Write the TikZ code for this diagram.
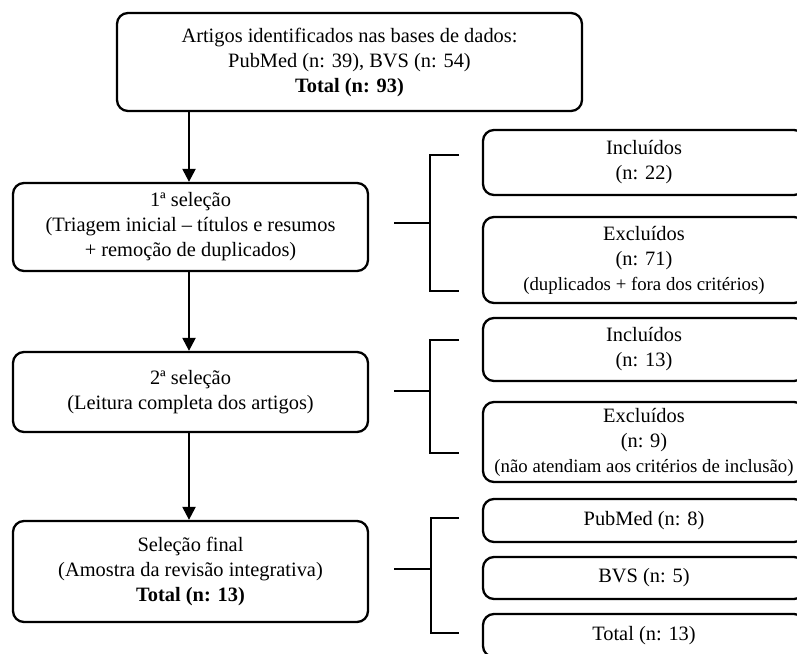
\documentclass[tikz,border=0pt]{standalone}
\usepackage{fontspec}
\setmainfont{Liberation Serif}
\usetikzlibrary{arrows.meta}
\begin{document}
\begin{tikzpicture}[x=1pt,y=-1pt,
  box/.style={draw=black,line width=2.3pt,rounded corners=11pt,fill=white,align=center,
    inner sep=0pt,font=\fontsize{20.4}{25}\selectfont},
  conn/.style={line width=2.3pt,black},
  arr/.style={conn,-{Triangle[width=13pt,length=13pt]}}]
\newcommand{\smalltxt}[1]{{\fontsize{18.8}{23}\selectfont #1}}
\useasboundingbox (0,0) rectangle (797,653);
\clip (0,0) rectangle (797,653);
% left column
\node[box,minimum width=465pt,minimum height=98pt] (top) at (349.5,62)
  {Artigos identificados nas bases de dados:\\PubMed (n: 39), BVS (n: 54)\\\textbf{Total (n: 93)}};
\node[box,minimum width=355pt,minimum height=88pt] (s1) at (190.5,227)
  {1ª seleção\\(Triagem inicial – títulos e resumos\\+ remoção de duplicados)};
\node[box,minimum width=355pt,minimum height=80pt] (s2) at (190.5,392)
  {2ª seleção\\(Leitura completa dos artigos)};
\node[box,minimum width=355pt,minimum height=101pt] (sf) at (190.5,571.5)
  {Seleção final\\(Amostra da revisão integrativa)\\\textbf{Total (n: 13)}};
% right column
\node[box,minimum width=322pt,minimum height=65pt] (i1) at (644,162.5) {Incluídos\\(n: 22)};
\node[box,minimum width=322pt,minimum height=86pt] (e1) at (644,260)
  {Excluídos\\(n: 71)\\\smalltxt{(duplicados + fora dos critérios)}};
\node[box,minimum width=322pt,minimum height=63pt] (i2) at (644,349.5) {Incluídos\\(n: 13)};
\node[box,minimum width=322pt,minimum height=80pt] (e2) at (644,442)
  {Excluídos\\(n: 9)\\\smalltxt{(não atendiam aos critérios de inclusão)}};
\node[box,minimum width=322pt,minimum height=43pt] (p) at (644,520.5) {PubMed (n: 8)};
\node[box,minimum width=322pt,minimum height=42pt] (b) at (644,578) {BVS (n: 5)};
\node[box,minimum width=322pt,minimum height=43pt] (t) at (644,635.5) {Total (n: 13)};
% arrows
\draw[arr] (top.south -| 189,0) -- (s1.north -| 189,0);
\draw[arr] (s1.south -| 189,0) -- (s2.north -| 189,0);
\draw[arr] (s2.south -| 189,0) -- (sf.north -| 189,0);
% brackets
\coordinate (k1) at (430,223);
\coordinate (k2) at (430,391);
\coordinate (k3) at (431,569);
\draw[conn] (s1.east |- k1) ++(25,0) -- (k1);
\draw[conn] (459,155) -- (430,155) -- (430,291) -- (459,291);
\draw[conn] (s2.east |- k2) ++(25,0) -- (k2);
\draw[conn] (459,340) -- (430,340) -- (430,453) -- (459,453);
\draw[conn] (sf.east |- k3) ++(25,0) -- (k3);
\draw[conn] (459,518) -- (431,518) -- (431,633) -- (459,633);
\end{tikzpicture}
\end{document}
